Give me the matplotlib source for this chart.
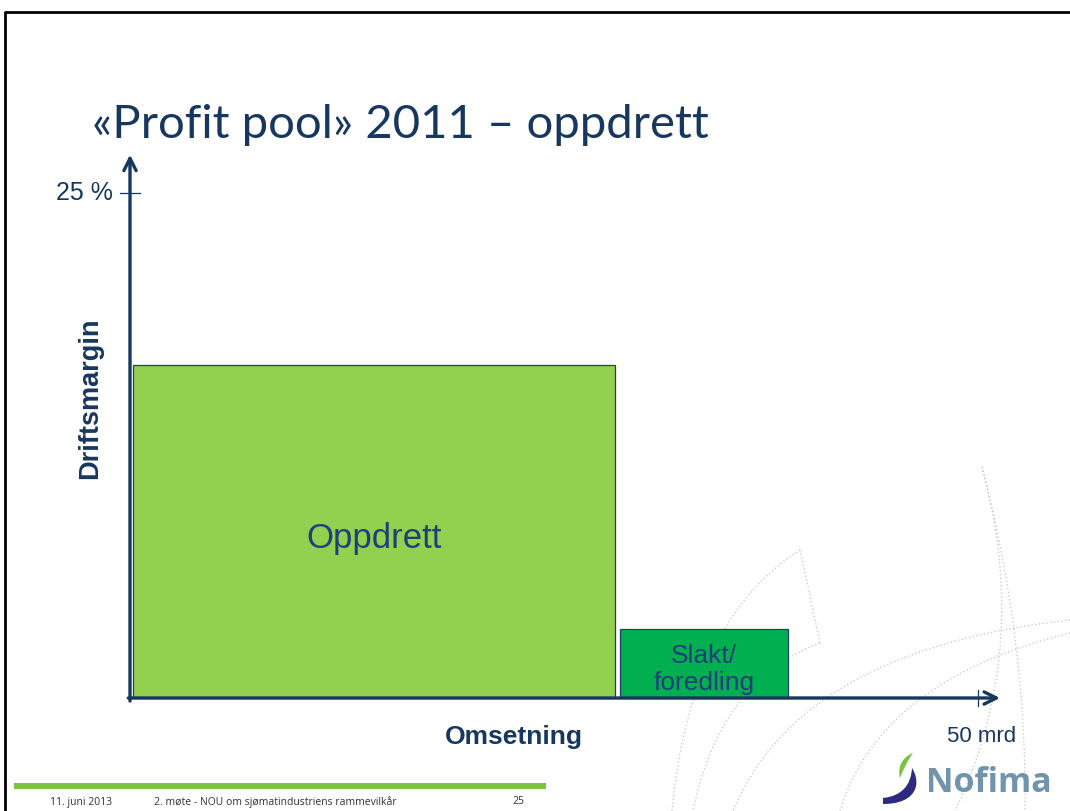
import matplotlib
matplotlib.use("Agg")
import matplotlib.pyplot as plt
from matplotlib.patches import Rectangle, PathPatch
from matplotlib.path import Path
import numpy as np

# ---- data ----
categories = ["Oppdrett", "Slakt/\nforedling"]
bar_left = [0.2, 28.9]          # mrd NOK (cumulative start)
bar_width = [28.4, 9.9]         # omsetning, mrd NOK
margin = [16.5, 3.4]            # driftsmargin, %
bar_colors = ["#92D050", "#00B050"]
y_tick_label = "25 %"
y_tick_value = 25
x_tick_label = "50 mrd"
x_tick_value = 50

title = "«Profit pool» 2011 – oppdrett"
footer_date = "11. juni 2013"
footer_text = "2. møte - NOU om sjømatindustriens rammevilkår"
footer_page = "25"

navy = "#17375E"
text_blue = "#1F3F7A"

W, H = 1070, 811
fig = plt.figure(figsize=(W / 100, H / 100), dpi=100)
fig.patch.set_facecolor("white")

# data axes spanning whole figure, linear pixel mapping
ax = fig.add_axes([0, 0, 1, 1])
xpp = 50 / 848.0
ypp = 25 / 505.0
ax.set_xlim(-130 * xpp, (W - 130) * xpp)
ax.set_ylim((698 - H) * ypp, 698 * ypp)
ax.axis("off")

def fx(px):
    return px / W

def fy(py):
    return 1 - py / H

# decorative dotted curves (background), quadratic beziers in pixel coords
def qcurve(p0, c, p1):
    t = np.linspace(0, 1, 200)
    x = (1 - t) ** 2 * p0[0] + 2 * (1 - t) * t * c[0] + t ** 2 * p1[0]
    y = (1 - t) ** 2 * p0[1] + 2 * (1 - t) * t * c[1] + t ** 2 * p1[1]
    fig.add_artist(plt.Line2D(fx(x), fy(y), transform=fig.transFigure,
                              color="#C2C2C2", lw=0.9, ls=(0, (1, 2)), zorder=0))

qcurve((982, 467), (1027, 640), (1025, 811))
qcurve((982, 467), (1032, 650), (955, 811))
qcurve((800, 550), (690, 620), (672, 811))
qcurve((800, 550), (810, 597), (820, 643))
qcurve((820, 643), (720, 680), (693, 811))
qcurve((1070, 620), (800, 650), (733, 811))
qcurve((1070, 633), (880, 680), (840, 811))

# bars
ax.bar(bar_left, margin, width=bar_width, align="edge", color=bar_colors,
       edgecolor="#1F3F6F", linewidth=0.9, zorder=2)

# bar labels
ax.text(bar_left[0] + bar_width[0] / 2, margin[0] * 0.48, categories[0],
        ha="center", va="center", fontsize=25, color=text_blue,
        family="Liberation Sans", zorder=3)
ax.text(bar_left[1] + bar_width[1] / 2, margin[1] * 0.41, categories[1],
        ha="center", va="center", fontsize=19, color=text_blue,
        family="Liberation Sans", linespacing=1.15, zorder=3)

# axes arrows
ax.annotate("", xy=(0, 26.9), xytext=(0, -0.15),
            arrowprops=dict(arrowstyle="->", lw=2.4, color=navy,
                            mutation_scale=22, shrinkA=0, shrinkB=0), zorder=4)
ax.annotate("", xy=(51.3, 0), xytext=(-0.1, 0),
            arrowprops=dict(arrowstyle="->", lw=2.4, color=navy,
                            mutation_scale=22, shrinkA=0, shrinkB=0), zorder=4)

# ticks
ax.plot([-0.6, 0.6], [y_tick_value, y_tick_value], color=navy, lw=0.9, zorder=4)
ax.plot([x_tick_value, x_tick_value], [-0.4, 0.4], color=navy, lw=0.9, zorder=4)
ax.text(-1.0, y_tick_value, y_tick_label, ha="right", va="center",
        fontsize=18, color=navy, family="Liberation Sans")
ax.text(x_tick_value + 0.2, -1.9, x_tick_label, ha="center", va="center",
        fontsize=16, color=navy, family="Liberation Sans")

# axis titles
fig.text(fx(90), fy(398), "Driftsmargin", rotation=90, ha="center", va="center",
         fontsize=19.5, fontweight="bold", color=navy, family="Liberation Sans")
fig.text(fx(514), fy(737), "Omsetning", ha="center", va="center",
         fontsize=19, fontweight="bold", color=navy, family="Liberation Sans")

# title
fig.text(fx(92), fy(138), title, ha="left", va="baseline",
         fontsize=34, color=navy, family="Lato")

# slide border (top & left)
fig.add_artist(plt.Line2D([fx(5), fx(5), fx(W + 5)], [fy(H + 5), fy(12), fy(12)],
                          transform=fig.transFigure, color="black", lw=2.0))

# footer
fig.add_artist(Rectangle((fx(14), fy(789)), fx(546) - fx(14), (6) / H,
                         transform=fig.transFigure, color="#7CC242", lw=0))
fig.text(fx(50), fy(802), footer_date, ha="left", va="center", fontsize=7.5,
         color="#333333", family="Open Sans")
fig.text(fx(154), fy(802), footer_text, ha="left", va="center", fontsize=7.5,
         color="#333333", family="Open Sans")
fig.text(fx(518), fy(802), footer_page, ha="center", va="center", fontsize=7.5,
         color="#333333", family="Open Sans")

# Nofima logo
fig.text(fx(926), fy(783), "Nofima", ha="left", va="center", fontsize=24.5,
         fontweight="bold", color="#6F94AC", family="Open Sans")
verts_blue = [(883, 798), (902, 796), (911, 785), (912, 768),
              (922, 784), (916, 804), (883, 804), (883, 798)]
codes = [Path.MOVETO, Path.CURVE4, Path.CURVE4, Path.CURVE4,
         Path.CURVE4, Path.CURVE4, Path.CURVE4, Path.CLOSEPOLY]
pb = Path([(fx(x), fy(y)) for x, y in verts_blue], codes)
fig.add_artist(PathPatch(pb, transform=fig.transFigure, color="#2E2A7F", lw=0))
verts_green = [(900, 778), (897, 766), (903, 757), (913, 753),
              (908, 760), (904, 768), (900, 778)]
codes_g = [Path.MOVETO, Path.CURVE4, Path.CURVE4, Path.CURVE4,
           Path.CURVE4, Path.CURVE4, Path.CURVE4]
pg = Path([(fx(x), fy(y)) for x, y in verts_green], codes_g)
fig.add_artist(PathPatch(pg, transform=fig.transFigure, color="#7CC242", lw=0))

fig.savefig("out.png", dpi=100, facecolor="white")
